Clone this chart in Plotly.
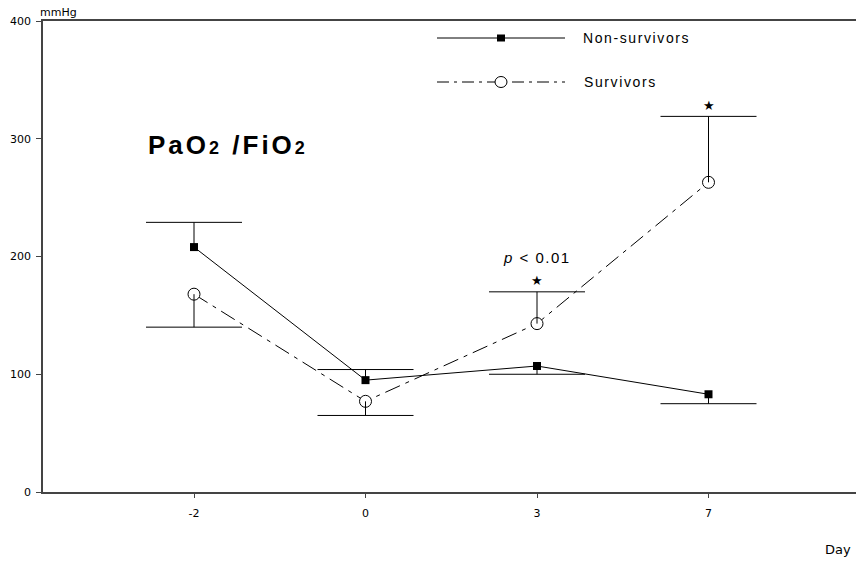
import plotly.graph_objects as go

# ---- data ----
days = ["-2", "0", "3", "7"]
ns_mean = [208, 95, 107, 83]          # Non-survivors
ns_err_up = [21, 9, 0, 0]
ns_err_down = [0, 0, 7, 8]
s_mean = [168, 77, 143, 263]          # Survivors
s_err_up = [0, 0, 27, 56]
s_err_down = [28, 12, 0, 0]
y_ticks = [0, 100, 200, 300, 400]
star_points = [2, 3]                  # indices of days with significance star

# ---- geometry helpers (layout only) ----
W, H = 856, 562
ML, MR, MT, MB = 43, 0, 21, 70
PW, PH = W - ML - MR, H - MT - MB
X_UNIT = 171.5                        # px per category step
X0 = -(194 - ML) / X_UNIT
X1 = X0 + PW / X_UNIT
CAP = 48 / X_UNIT                     # half-width of error caps in data units


def px(x):
    return (x - ML) / PW


def py(y):
    return (MT + PH - y) / PH


def sp(text, ls, size=None):
    st = f"letter-spacing:{ls}px"
    if size:
        st = f"font-size:{size}px;" + st
    return f'<span style="{st}">{text}</span>'


def err_xy(mean, up, down):
    xs, ys = [], []
    for i, (m, u, d) in enumerate(zip(mean, up, down)):
        for e in (u, -d):
            if e:
                b = m + e
                xs += [i, i, None, i - CAP, i + CAP, None]
                ys += [m, b, None, b, b, None]
    return xs, ys


idx = list(range(len(days)))
fig = go.Figure()

fig.add_trace(go.Scatter(
    x=idx, y=ns_mean, mode="lines+markers",
    line=dict(color="black", width=1),
    marker=dict(symbol="square", size=8, color="black"),
    showlegend=False, hoverinfo="skip"))

fig.add_trace(go.Scatter(
    x=idx, y=s_mean, mode="lines+markers",
    line=dict(color="black", width=1, dash="16px,6px,4px,6px"),
    marker=dict(symbol="circle", size=12, color="white",
                line=dict(color="black", width=1)),
    showlegend=False, hoverinfo="skip"))

for mean, up, down in ((ns_mean, ns_err_up, ns_err_down),
                       (s_mean, s_err_up, s_err_down)):
    ex, ey = err_xy(mean, up, down)
    fig.add_trace(go.Scatter(
        x=ex, y=ey, mode="lines", line=dict(color="black", width=1),
        showlegend=False, hoverinfo="skip"))

annotations = [
    dict(text="mmHg", x=px(38), y=py(12), xref="paper", yref="paper",
         xanchor="left", yanchor="middle", showarrow=False,
         font=dict(family="DejaVu Sans", size=11, color="black")),
    dict(text="Day", x=px(853), y=py(549), xref="paper", yref="paper",
         xanchor="right", yanchor="middle", showarrow=False,
         font=dict(family="DejaVu Sans", size=13, color="black")),
    dict(text=sp("PaO", 3) + sp("2", 3, 18) + sp(" /FiO", 3) + sp("2", 3, 18),
         x=px(146), y=py(145), xref="paper", yref="paper",
         xanchor="left", yanchor="middle", showarrow=False,
         font=dict(family="Liberation Sans", size=26, color="black", weight="bold")),
    dict(text=sp("Non-survivors", 1.6), x=px(581), y=py(38), xref="paper", yref="paper",
         xanchor="left", yanchor="middle", showarrow=False,
         font=dict(family="Liberation Sans", size=14, color="black")),
    dict(text=sp("Survivors", 1.6), x=px(582), y=py(82), xref="paper", yref="paper",
         xanchor="left", yanchor="middle", showarrow=False,
         font=dict(family="Liberation Sans", size=14, color="black")),
    dict(text=sp("<i>p</i> < 0.01", 1.5), x=2, y=s_mean[2] + s_err_up[2],
         xref="x", yref="y", yshift=34, showarrow=False,
         font=dict(family="Liberation Sans", size=15, color="black")),
]
for i in star_points:
    annotations.append(dict(
        text="★", x=i, y=s_mean[i] + s_err_up[i], xref="x", yref="y",
        yshift=11, showarrow=False,
        font=dict(family="DejaVu Sans", size=13, color="black")))

shapes = [
    dict(type="line", xref="paper", yref="paper", x0=px(437), x1=px(565),
         y0=py(38), y1=py(38), line=dict(color="black", width=1)),
    dict(type="rect", xref="paper", yref="paper", xsizemode="pixel", ysizemode="pixel",
         xanchor=px(501), yanchor=py(38), x0=-4, x1=4, y0=-3.5, y1=3.5,
         fillcolor="black", line=dict(width=0)),
    dict(type="line", xref="paper", yref="paper", x0=px(437), x1=px(565),
         y0=py(82), y1=py(82), line=dict(color="black", width=1, dash="12px,5px,3px,5px")),
    dict(type="circle", xref="paper", yref="paper", xsizemode="pixel", ysizemode="pixel",
         xanchor=px(501), yanchor=py(82), x0=-6, x1=6, y0=-5.5, y1=5.5,
         fillcolor="white", line=dict(color="black", width=1)),
]

fig.update_layout(
    width=W, height=H,
    margin=dict(l=ML, r=MR, t=MT, b=MB, autoexpand=False),
    paper_bgcolor="white", plot_bgcolor="white",
    showlegend=False,
    annotations=annotations, shapes=shapes,
    xaxis=dict(range=[X0, X1], tickmode="array", tickvals=idx, ticktext=days,
               showline=True, linecolor="#444", linewidth=1.5, mirror=True,
               ticks="outside", ticklen=4, tickcolor="#444",
               ticklabelstandoff=6,
               showgrid=False, zeroline=False,
               tickfont=dict(family="DejaVu Sans", size=11, color="black")),
    yaxis=dict(range=[0, 400], tickmode="array", tickvals=y_ticks,
               showline=True, linecolor="#444", linewidth=1.5,
               ticks="outside", ticklen=5, tickcolor="#444",
               ticklabelstandoff=3,
               showgrid=False, zeroline=False,
               tickfont=dict(family="DejaVu Sans", size=11, color="black")),
)

fig.write_html("out.html", config={"displayModeBar": False},
               post_script="document.body.style.margin='0';document.body.style.overflow='hidden';")
